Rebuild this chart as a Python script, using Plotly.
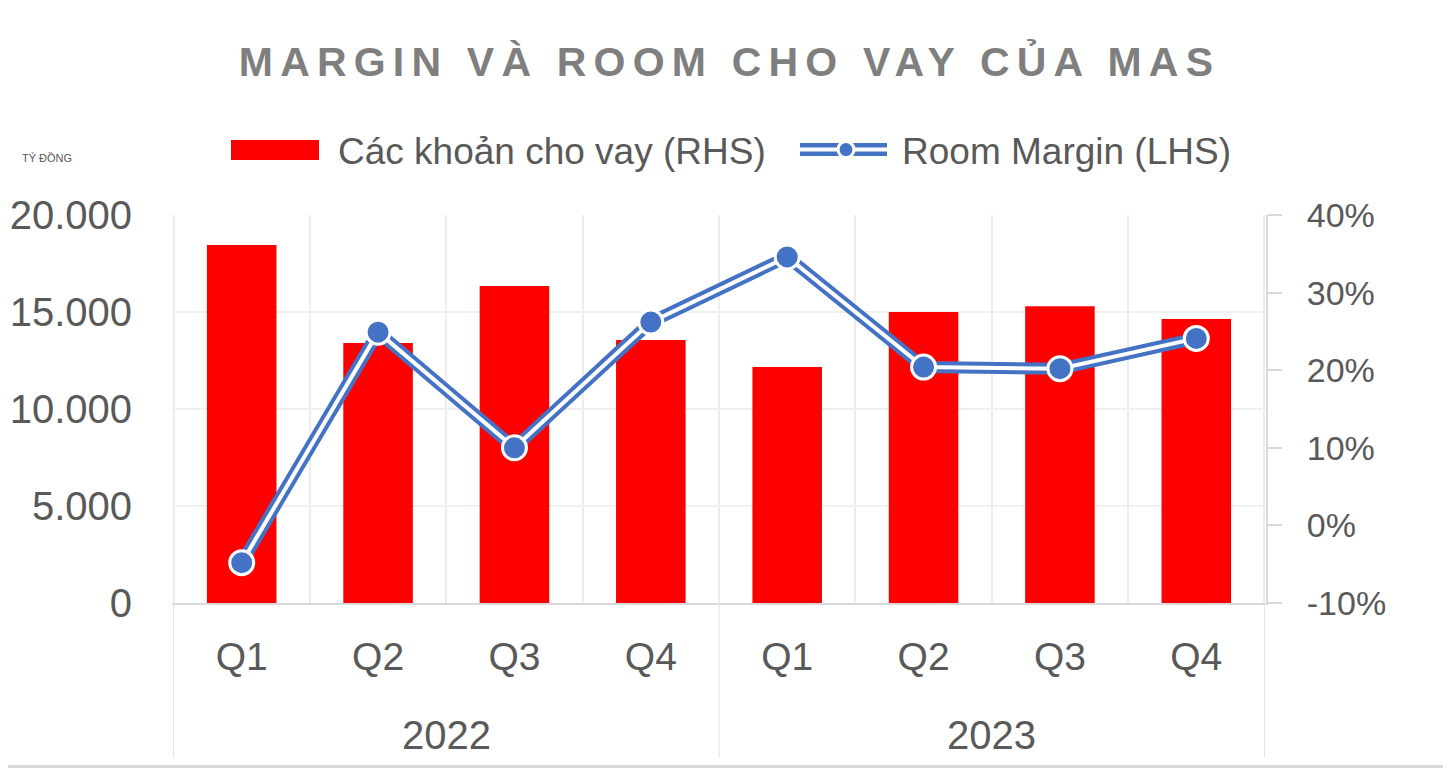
import plotly.graph_objects as go

# ---- data ----
years = ["2022", "2022", "2022", "2022", "2023", "2023", "2023", "2023"]
quarters = ["Q1", "Q2", "Q3", "Q4", "Q1", "Q2", "Q3", "Q4"]
loans = [18450, 13400, 16340, 13560, 12160, 15000, 15300, 14640]        # tỷ đồng
room_margin = [-0.048, 0.249, 0.100, 0.262, 0.346, 0.204, 0.202, 0.241]  # fraction

right_tickvals = [-0.1, 0.0, 0.1, 0.2, 0.3, 0.4]
right_ticktext = ["-10%", "0%", "10%", "20%", "30%", "40%"]

bar_name = "Các khoản cho vay (RHS)"
line_name = "Room Margin (LHS)"
title_text = "MARGIN VÀ ROOM CHO VAY CỦA MAS"
unit_text = "TỶ ĐỒNG"

# ---- layout constants (page body adds an 8px offset) ----
OFF = 8
W, H = 1451 - OFF, 768 - OFF
ML, MR, MT, MB = 172 - OFF, 185, 215 - OFF, 165
PW = W - ML - MR
PH = H - MT - MB
FONT = "Liberation Sans, Arial, sans-serif"
GREY = "#595959"
BLUE = "#4472C4"
RED = "#FF0000"

def px_x(sx):   # screen x -> paper x
    return (sx - OFF - ML) / PW

def px_y(sy):   # screen y -> paper y
    return (H - MB - (sy - OFF)) / PH

keys = [y + " " + q for y, q in zip(years, quarters)]

fig = go.Figure()
fig.add_trace(go.Bar(
    x=keys, y=loans, name=bar_name, legendgroup="bar", showlegend=False,
    marker=dict(color=RED, line=dict(width=0)), yaxis="y"))
# legend entry for the bars (swatch drawn as a full-size block below)
fig.add_trace(go.Scatter(
    x=keys[:1], y=loans[:1], name=bar_name, legendgroup="bar", legend="legend",
    mode="lines", line=dict(color="rgba(255,0,0,0)", width=10), yaxis="y",
    hoverinfo="skip"))
# double line: blue outer + white inner, markers on top
fig.add_trace(go.Scatter(
    x=keys, y=room_margin, name=line_name, legendgroup="line", showlegend=False,
    mode="lines", yaxis="y2", line=dict(color=BLUE, width=12), hoverinfo="skip"))
fig.add_trace(go.Scatter(
    x=keys, y=room_margin, name=line_name, legendgroup="line", legend="legend2",
    mode="lines+markers", yaxis="y2", line=dict(color="white", width=4),
    marker=dict(size=24, color=BLUE, line=dict(color="white", width=3))))

fig.update_layout(
    width=W, height=H,
    margin=dict(l=ML, r=MR, t=MT, b=MB, autoexpand=False),
    paper_bgcolor="white", plot_bgcolor="white",
    separators=",.",
    font=dict(family=FONT, color=GREY, size=34),
    title=dict(
        text='<span style="letter-spacing:7.2px">' + title_text + '</span>',
        x=0.5, xanchor="center", y=1 - (62 - OFF) / H, yanchor="middle",
        font=dict(family=FONT, size=41, color="#7F7F7F", weight="bold")),
    bargap=0.49,
    showlegend=True,
    legend=dict(orientation="h", x=px_x(226), xanchor="left",
                y=px_y(150), yanchor="middle",
                font=dict(size=37, color=GREY), bgcolor="rgba(0,0,0,0)",
                itemwidth=102),
    legend2=dict(orientation="h", x=px_x(790), xanchor="left",
                 y=px_y(150), yanchor="middle",
                 font=dict(size=37, color=GREY), bgcolor="rgba(0,0,0,0)",
                 itemwidth=102),
    xaxis=dict(
        type="category", categoryorder="array", categoryarray=keys,
        tickvals=keys, ticktext=quarters,
        showgrid=True, gridcolor="#EDEDED", gridwidth=2,
        tickson="boundaries", showline=True, linecolor="#D9D9D9", linewidth=2,
        ticks="", tickfont=dict(size=39, color=GREY), ticklabelstandoff=18,
        zeroline=False),
    yaxis=dict(
        range=[0, 20000], dtick=5000, tickformat=",d", showgrid=True,
        gridcolor="#F0F0F0", gridwidth=2, zeroline=False, showline=False,
        ticks="", tickfont=dict(size=40, color=GREY), ticklabelstandoff=39),
    yaxis2=dict(
        overlaying="y", side="right", range=[-0.1, 0.4],
        tickvals=right_tickvals, ticktext=right_ticktext,
        showgrid=False, zeroline=False, showline=True,
        linecolor="#D9D9D9", linewidth=2, ticks="outside", ticklen=14,
        tickcolor="#D9D9D9", tickwidth=2, tickfont=dict(size=34, color=GREY),
        ticklabelstandoff=18),
)

# legend swatches (full-size red block, blue outer band of the double line)
fig.add_shape(type="rect", xref="paper", yref="paper",
              x0=px_x(231), x1=px_x(319), y0=px_y(160), y1=px_y(140),
              fillcolor=RED, line=dict(width=0), layer="above")
fig.add_shape(type="rect", xref="paper", yref="paper",
              x0=px_x(800), x1=px_x(887), y0=px_y(156), y1=px_y(143),
              fillcolor=BLUE, line=dict(width=0), layer="above")

# year group labels and dividers below the category axis
groups = []
for i, yv in enumerate(years):
    if not groups or groups[-1][0] != yv:
        groups.append([yv, i, i])
    else:
        groups[-1][2] = i
for yv, i0, i1 in groups:
    fig.add_annotation(
        text=yv, xref="x", yref="paper", x=(i0 + i1) / 2, y=px_y(735),
        yanchor="middle", showarrow=False, font=dict(size=40, color=GREY, family=FONT))
bounds = [groups[0][1] - 0.5] + [g[2] + 0.5 for g in groups]
for b in bounds:
    fig.add_shape(type="line", xref="x", yref="paper", x0=b, x1=b,
                  y0=0, y1=px_y(758), line=dict(color="#E3E3E3", width=1))

# unit label
fig.add_annotation(
    text=unit_text, xref="paper", yref="paper",
    x=px_x(20), y=px_y(158), xanchor="left", yanchor="middle",
    showarrow=False, font=dict(size=11, color=GREY, family=FONT))

# chart border (right / bottom edges visible in frame)
fig.add_shape(type="line", xref="paper", yref="paper",
              x0=px_x(1449.5), x1=px_x(1449.5), y0=px_y(0), y1=px_y(768),
              line=dict(color="#D9D9D9", width=3))
fig.add_shape(type="line", xref="paper", yref="paper",
              x0=px_x(0), x1=px_x(1451), y0=px_y(766.5), y1=px_y(766.5),
              line=dict(color="#D9D9D9", width=3))

fig.write_html("out.html")
